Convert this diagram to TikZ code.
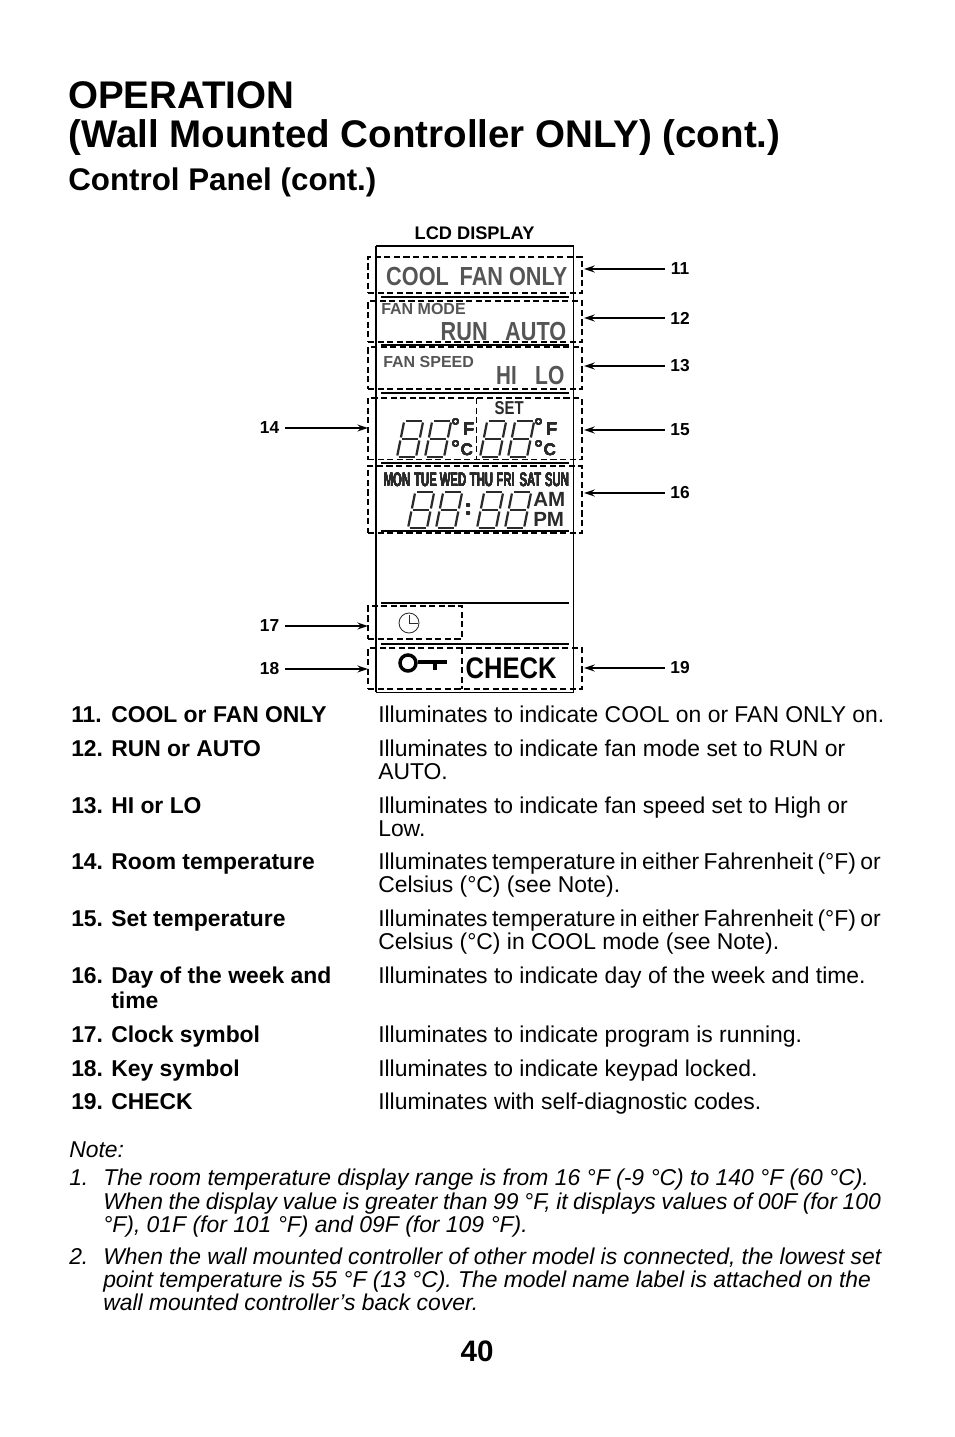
\documentclass[tikz,border=0pt]{standalone}
\usepackage{fontspec}
\setmainfont{Liberation Sans}
\usetikzlibrary{arrows.meta, positioning, calc, fit}
\definecolor{lcdgrey}{HTML}{555555}
\definecolor{lcddark}{HTML}{2A2A2A}
\newcommand{\sizepx}[1]{\fontsize{#1}{#1}\selectfont}
\newcommand{\lcddigit}[2]{%
  \begin{scope}[shift={(#1,#2)}, xslant=0.2, lcddark, line width=1.7pt]
    \draw (1.5,0) -- (17.5,0);
    \draw (1.5,-18) -- (17.5,-18);
    \draw (1.5,-36) -- (17.5,-36);
    \draw (0,-1.5) -- (0,-16.5);
    \draw (0,-19.5) -- (0,-34.5);
    \draw (19,-1.5) -- (19,-16.5);
    \draw (19,-19.5) -- (19,-34.5);
  \end{scope}
}
\tikzset{
  dbox/.style={draw=black, line width=1.1pt, dash pattern=on 4.6pt off 2.6pt,
               inner sep=0pt, outer sep=0pt},
  area/.style={inner sep=0pt, outer sep=0pt},
  pointer/.style={-{Stealth[length=8pt, width=5.2pt]}, line width=1.05pt},
  tag/.style={font=\bfseries\sizepx{13}, inner sep=0pt},
  bar/.style={line width=2.2pt},
  lcdtext/.style={font=\bfseries\sizepx{19.6}, text=lcdgrey, inner sep=0pt,
                  anchor=base west, xscale=0.83, transform shape},
  lcdsmall/.style={font=\bfseries\sizepx{12}, text=lcdgrey, inner sep=0pt,
                   anchor=base west},
  lcdunit/.style={font=\bfseries\sizepx{14}, text=lcddark, inner sep=0pt,
                  anchor=base west},
  daytext/.style={font=\bfseries\sizepx{14.6}, text=lcddark, inner sep=0pt,
                  anchor=base, xscale=0.58, transform shape},
  itemtext/.style={font=\bfseries\sizepx{17.17}, inner sep=0pt, anchor=base west},
  bodytext/.style={font=\sizepx{17.17}, inner sep=0pt, anchor=base west},
  notetext/.style={font=\itshape\sizepx{17.17}, inner sep=0pt, anchor=base west},
}
\begin{document}
\begin{tikzpicture}[x=0.75pt, y=-0.75pt]
  \useasboundingbox (0,0) rectangle (954,1437);
  % headings
  \node[font=\bfseries\sizepx{28.9}, inner sep=0pt, anchor=base west] (title1) at (68,109) {OPERATION};
  \node[font=\bfseries\sizepx{28.9}, inner sep=0pt, anchor=base west] (title2) at (68,147.5) {(Wall Mounted Controller ONLY) (cont.)};
  \node[font=\bfseries\sizepx{23.5}, inner sep=0pt, anchor=base west] (subtitle) at (68,191) {Control Panel (cont.)};
  \node[font=\bfseries\sizepx{22.2}, inner sep=0pt, anchor=base] (pageno) at (477,1361) {40};
  \node[font=\bfseries\sizepx{13.66}, inner sep=0pt, anchor=base] (lcdtitle) at (474.5,239.5) {LCD DISPLAY};

  % display frame
  \coordinate (frameA) at (376,692);
  \coordinate (frameB) at (376,246);
  \coordinate (frameC) at (573.5,246);
  \coordinate (frameD) at (573.5,692);
  \draw[line width=1.15pt] (frameA) -- (frameB);
  \draw[line width=1.15pt] (frameB) -- (frameC);
  \draw[line width=0.7pt] (frameC) -- (frameD) -- (frameA);
  \foreach \y in {297,393,463,603,644} {
    \coordinate (barL\y) at (381,\y);
    \coordinate (barR\y) at (569,\y);
    \draw[bar] (barL\y) -- (barR\y);
  }
  \coordinate (barL345) at (381,345);
  \coordinate (barR345) at (569,345);
  \draw[line width=1.4pt] (barL345) -- (barR345);
  \coordinate (barL531) at (381,531);
  \coordinate (barR531) at (569,531);
  \draw[line width=1pt] (barL531) -- (barR531);

  % dashed areas
  \node[dbox, fit={(368,257) (582,293)}] (b11) {};
  \node[dbox, fit={(368,301) (582,342)}] (b12) {};
  \node[dbox, fit={(368,347) (582,389)}] (b13) {};
  \node[area, fit={(368,398) (476.5,459.5)}] (b14) {};
  \node[area, fit={(476.5,398) (582,459.5)}] (b15) {};
  \node[dbox, fit={(368,398) (582,459.5)}] (b1415) {};
  \draw[dbox] (b14.north east) -- (b14.south east);
  \node[dbox, fit={(368,466) (582,533)}] (b16) {};
  \node[dbox, fit={(368,606) (462,639)}] (b17) {};
  \node[area, fit={(368,648) (462,689)}] (b18) {};
  \node[area, fit={(462,648) (582,689)}] (b19) {};
  \node[dbox, fit={(368,648) (582,689)}] (b1819) {};
  \draw[dbox] (b18.north east) -- (b18.south east);

  % numbered pointers
  \foreach \n/\y in {11/269,12/318,13/366,15/430,16/493,19/668} {
    \node[tag] (n\n) at (680,\y) {\n};
    \coordinate (s\n) at (664.5,\y);
    \draw[pointer, shorten >=1.5pt] (s\n) -- (s\n -| b\n.east);
  }
  \foreach \n/\y in {14/428,17/626,18/669} {
    \node[tag] (n\n) at (269.5,\y) {\n};
    \coordinate (s\n) at (285,\y);
    \draw[pointer] (s\n) -- (s\n -| b\n.west);
  }

  % lcd texts
  \node[lcdtext] (cool) at (386,285.5) {COOL};
  \node[lcdtext] (fanonly) at (459.5,285.5) {FAN ONLY};
  \node[lcdsmall] (fanmode) at (381,315) {FAN MODE};
  \node[lcdtext] (run) at (440.5,340) {RUN};
  \node[lcdtext] (auto) at (505,340) {AUTO};
  \node[lcdsmall] (fanspeed) at (383,367) {FAN SPEED};
  \node[lcdtext, xscale=0.95] (hi) at (496,384) {HI};
  \node[lcdtext, xscale=0.97] (lo) at (535,384) {LO};
  \node[lcdunit, xscale=0.8, transform shape] (settext) at (494.5,414) {SET};
  \foreach \x/\y in {397/457,425/457,480/457,508/457,408/528,436/528,477/528,505/528}
    \lcddigit{\x}{\y}
  \foreach \y in {505,513} {
    \node[circle, fill=lcddark, minimum size=3pt, inner sep=0pt] (colon\y) at (468,\y) {};
  }
  \foreach \n/\x in {a/451,b/534} {
    \node[lcdunit, font=\bfseries\sizepx{16}] (deg\n) at (\x,433) {°};
    \node[lcdunit] (fahr\n) at ($(\x,435)+(11.5,0)$) {F};
    \node[lcdunit, font=\bfseries\sizepx{16}] (degc\n) at (\x,455) {°};
    \node[lcdunit, font=\bfseries\sizepx{12.5}] (cels\n) at ($(\x,455)+(9.5,0)$) {C};
  }
  \foreach \d/\x in {MON/397,TUE/425.5,WED/453,THU/481.5,FRI/505.5,SAT/530.5,SUN/557}
    \node[daytext] (day\d) at (\x,486) {\d};
  \node[lcdunit, font=\bfseries\sizepx{15.4}] (am) at (533,506) {AM};
  \node[lcdunit, font=\bfseries\sizepx{15.4}] (pm) at (533,526) {PM};
  \node[font=\bfseries\sizepx{22.3}, text=black, inner sep=0pt, anchor=base west,
        xscale=0.86, transform shape] (check) at (465.5,678.5) {CHECK};

  % clock symbol
  \node[circle, draw=lcddark, line width=0.65pt, minimum size=15pt, inner sep=0pt] (clock) at (409,623) {};
  \draw[lcddark, line width=0.65pt] (409,615) -- (clock.center) -- (418,623);
  % key symbol
  \node[circle, draw=black, line width=2.6pt, minimum size=12pt, inner sep=0pt] (keyring) at (408,663) {};
  \coordinate (keyend) at (447,662);
  \draw[line width=2.4pt] (keyring.east |- keyend) -- (keyend);
  \draw[line width=2.4pt] (435,662) -- (435,670);

  % legend
  \foreach \y/\k/\t in {722/11/COOL or FAN ONLY,756/12/RUN or AUTO,813/13/HI or LO,
      869/14/Room temperature,926/15/Set temperature,983/16/Day of the week and,
      1042/17/Clock symbol,1076/18/Key symbol,1109/19/CHECK} {
    \node[itemtext] (num\k) at (71,\y) {\k.};
    \node[itemtext] (item\k) at (111,\y) {\t};
  }
  \node[itemtext] (item16b) at (111,1008) {time};
  \foreach \y/\t in {722/Illuminates to indicate COOL on or FAN ONLY on.,
      756/Illuminates to indicate fan mode set to RUN or,779/AUTO.,
      813/Illuminates to indicate fan speed set to High or,836/Low.,
      869/{\spaceskip=3.3pt Illuminates temperature in either Fahrenheit (°F) or},
      892/{Celsius (°C) (see Note).},
      926/{\spaceskip=3.3pt Illuminates temperature in either Fahrenheit (°F) or},
      949/{Celsius (°C) in COOL mode (see Note).},
      983/Illuminates to indicate day of the week and time.,
      1042/Illuminates to indicate program is running.,
      1076/Illuminates to indicate keypad locked.,
      1109/Illuminates with self-diagnostic codes.}
    \node[bodytext] (desc\y) at (378,\y) {\t};

  % notes
  \node[notetext] (note) at (69,1157) {Note:};
  \node[notetext] (note1) at (69,1185) {1.};
  \node[notetext] (note2) at (69,1264) {2.};
  \foreach \y/\t in {1185/{The room temperature display range is from 16 °F (-9 °C) to 140 °F (60 °C).},
      1209/{\spaceskip=4.15pt When the display value is greater than 99 °F, it displays values of 00F (for 100},
      1232/{°F), 01F (for 101 °F) and 09F (for 109 °F).},
      1264/{\spaceskip=4.65pt When the wall mounted controller of other model is connected, the lowest set},
      1287/{\spaceskip=4.7pt point temperature is 55 °F (13 °C). The model name label is attached on the},
      1310/{wall mounted controller’s back cover.}}
    \node[notetext] (line\y) at (103,\y) {\t};
\end{tikzpicture}
\end{document}
